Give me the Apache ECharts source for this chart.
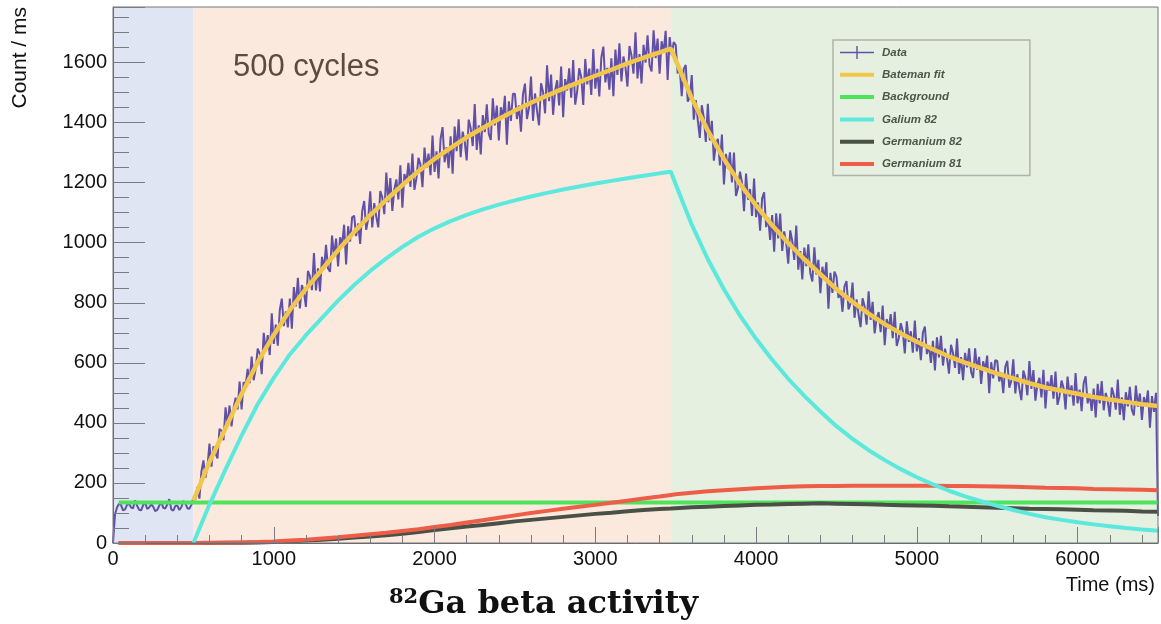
<!DOCTYPE html>
<html><head><meta charset="utf-8">
<script src="https://cdn.jsdelivr.net/npm/echarts@6/dist/echarts.min.js"></script>
<style>html,body{margin:0;padding:0;background:#fff}#c{width:1161px;height:624px}</style>
</head><body><div id="c"></div>
<script>
// ---- data ----
const BIN_MS = 12.5; // spacing of the measured points (ms)
const dataCounts = [
0,96,118,131,126,109,112,127,131,118,116,142,124,111,109,126,135,113,118,129,121,106,110,124,138,117,115,128,146,112,108,123,125,110,119,140,132,116,114,127,
150,144,186,148,238,275,217,254,331,254,322,299,282,380,374,342,452,391,458,388,450,484,445,538,445,536,524,580,532,621,542,580,
647,631,562,700,639,692,626,765,663,727,657,776,814,722,771,718,814,714,852,788,883,781,859,836,786,906,888,842,966,841,915,838,953,910,993,914,903,1024,954,1014,921,1018,992,1060,928,1055,1004,1085,
1090,1022,1064,996,1105,1139,1043,1080,1171,1051,1132,1087,1051,1172,1151,1095,1234,1135,1215,1106,1178,1211,1144,1258,1117,1229,1200,1266,1186,1297,1176,1215,1283,1260,1185,1317,1250,1297,1225,1357,
1236,1304,1214,1346,1385,1268,1318,1248,1354,1230,1387,1305,1411,1285,1370,1337,1274,1410,1381,1322,1462,1309,1391,1294,1425,1368,1461,1362,1342,1481,1391,1457,1341,1451,1415,1489,1326,1471,1406,1496,
1496,1412,1457,1370,1494,1530,1412,1449,1553,1406,1497,1439,1391,1531,1502,1431,1591,1471,1560,1426,1506,1541,1457,1587,1418,1545,1507,1581,1483,1608,1460,1505,1581,1552,1459,1612,1527,1580,1492,1645,
1513,1579,1487,1617,1653,1534,1582,1510,1614,1488,1643,1559,1664,1537,1620,1585,1520,1655,1624,1563,1701,1547,1628,1530,1659,1600,1691,1591,1570,1707,1615,1680,1563,1671,1634,1706,1542,1685,
1625,1668,
1658,1564,1583,1488,1579,1592,1470,1484,1558,1410,1475,1408,1349,1458,1416,1336,1463,1341,1406,1273,1329,1346,1257,1360,1194,1296,1248,1301,1201,1300,1156,1182,1237,1200,1105,1230,1143,1179,1089,1214,
1085,1134,1040,1147,1168,1052,1084,1009,1092,970,1098,1014,1097,973,1038,999,930,1041,1006,943,1057,910,972,878,984,922,995,898,871,985,894,943,832,920,878,935,780,900,833,904,
887,816,841,770,855,872,778,798,867,750,811,761,719,815,788,727,838,743,803,698,749,769,702,791,659,746,713,762,682,770,656,682,732,705,631,738,670,705,634,741,
638,682,609,700,721,629,659,600,673,575,685,618,690,591,647,617,564,660,633,583,681,563,619,542,633,585,648,570,550,648,577,620,530,605,574,624,499,602,548,609,
606,538,567,499,587,607,517,540,612,498,562,515,476,574,550,492,606,513,576,474,528,550,485,577,448,538,507,559,481,571,460,489,541,516,445,554,488,525,457,566,
465,511,439,532,555,465,497,440,514,418,530,465,539,442,500,472,421,518,493,444,544,427,485,409,502,455,520,443,425,524,454,498,410,486,457,508,384,489,437,500,
90];

const fitTimes = [500,600,700,800,900,1000,1100,1200,1300,1400,1500,1600,1700,1800,1900,2000,2100,2200,2300,2400,2500,2600,2700,2800,2900,3000,3100,3200,3300,3400,3470,
3500,3600,3700,3800,3900,4000,4100,4200,4300,4400,4500,4600,4700,4800,4900,5000,5100,5200,5300,5400,5500,5600,5700,5800,5900,6000,6100,6200,6300,6400,6500];
const batemanFit = [140,270,382,496,602,693,776,846,911,975,1036,1092,1143,1192,1238,1279,1316,1351,1382,1412,1440,1466,1490,1513,1535,1556,1576,1597,1616,1634,1646,
1608,1481,1373,1279,1196,1124,1058,999,945,895,845,803,764,729,698,670,645,621,601,582,564,548,532,518,507,497,486,478,470,462,456];
const galium82 = [0,128,245,358,462,550,628,692,750,807,859,906,948,986,1020,1048,1072,1093,1111,1127,1141,1154,1166,1177,1187,1197,1206,1215,1223,1231,1236,
1195,1060,945,845,757,680,610,547,490,438,389,347,309,276,246,219,195,174,155,139,124,110,97,86,77,69,62,56,50,45,41];
const germanium81 = [0,0.5,1,2,3,5,8,11,15,19,24,29,34,40,46,53,60,68,76,84,92,100,107,114,121,127,134,141,148,155,160,
162,167,172,176,179,182,185,187,189,190,190,191,191,191,191,191,191,190,190,189,188,187,186,184,183,182,180,179,178,177,176];
const germanium82 = [0,0,0.5,1,2,3,5,8,11,14,18,22,26,31,37,43,49,55,60,66,72,77,82,87,92,97,101,106,110,113,115,
116,119,121,123,125,127,128,130,131,132,131,130,129,127,126,125,124,122,121,119,117,116,114,113,112,111,109,108,107,105,104];
const curveStartTime = 35;           // Ge curves and background start (ms)
const backgroundLevel = 135;         // counts / ms
const phaseBounds = [0, 500, 3470, 6500];
const phaseColors = ['#dfe5f2', '#fbe9de', '#e5f0e0'];
const seriesNames = ['Data', 'Bateman fit', 'Background', 'Galium 82', 'Germanium 82', 'Germanium 81'];
const annotation = '500 cycles';

// ---- build ----
const pair = (vals) => fitTimes.map((t, i) => [t, vals[i]]);
const dataPts = dataCounts.map((v, i) => [i * BIN_MS, v]);
const ge81Pts = [[curveStartTime, 0]].concat(pair(germanium81));
const ge82Pts = [[curveStartTime, 0]].concat(pair(germanium82));
const bgPts = [[curveStartTime, backgroundLevel], [phaseBounds[3], backgroundLevel]];

const SANS = '"Liberation Sans", Arial, Helvetica, sans-serif';
const ICON_BAR = 'path://M0,0M0,4.5L34,4.5L34,8.5L0,8.5ZM34,13';
const ICON_DATA = 'path://M0,5.8L34,5.8L34,7.2L0,7.2ZM16.3,0L17.7,0L17.7,13L16.3,13Z';

const colors = {
  'Data': '#6050a6', 'Bateman fit': '#f2c64a', 'Background': '#4fe35c',
  'Galium 82': '#5de8dd', 'Germanium 82': '#4a5046', 'Germanium 81': '#ee5d48'
};
const tickColor = '#7b7b84';

const mkLine = (name, pts, width, extra) => Object.assign({
  name, type: 'line', data: pts, symbol: 'none', showSymbol: false,
  color: colors[name], itemStyle: { color: colors[name], borderWidth: 0 },
  lineStyle: { color: colors[name], width }, emphasis: { disabled: true },
  silent: true, animation: false
}, extra || {});

const markAreaData = phaseColors.map((c, i) => [
  { xAxis: phaseBounds[i], itemStyle: { color: c } },
  { xAxis: phaseBounds[i + 1] }
]);

const chart = echarts.init(document.getElementById('c'), null, { renderer: 'canvas' });
chart.setOption({
  animation: false,
  backgroundColor: '#ffffff',
  grid: { left: 113, right: 1, top: 7, bottom: 81, show: true, borderColor: '#777', borderWidth: 1, z: 10, backgroundColor: 'transparent' },
  title: {
    text: '{sup|82}{main|Ga beta activity}', left: 389, top: 587, padding: 0,
    textStyle: {
      rich: {
        sup: { fontSize: 21, fontWeight: 'bold', fontFamily: '"DejaVu Serif", serif', color: '#111', verticalAlign: 'top', lineHeight: 22 },
        main: { fontSize: 32, fontWeight: 'bold', fontFamily: '"DejaVu Serif", serif', color: '#111', lineHeight: 36 }
      }
    }
  },
  legend: {
    orient: 'vertical', left: 833, top: 40, itemWidth: 34, itemHeight: 13, itemGap: 9.3,
    padding: [6, 68, 5, 7], borderColor: '#aeb3ab', borderWidth: 1.5, backgroundColor: 'transparent',
    selectedMode: false,
    itemStyle: { borderWidth: 0 },
    textStyle: { fontSize: 11.5, fontStyle: 'italic', fontWeight: 'bold', color: '#4b5749', fontFamily: SANS, padding: [0, 0, 0, 3] },
    data: seriesNames.map(n => ({ name: n, icon: n === 'Data' ? ICON_DATA : ICON_BAR, itemStyle: { color: colors[n], borderWidth: 0 } }))
  },
  xAxis: {
    type: 'value', min: phaseBounds[0], max: phaseBounds[3], interval: 1000, z: 10,
    axisLine: { show: true, onZero: false, lineStyle: { color: '#6b6b73', width: 1 } },
    axisTick: { show: true, inside: true, length: 16, lineStyle: { color: tickColor } },
    minorTick: { show: true, splitNumber: 5, length: 8, lineStyle: { color: tickColor } },
    splitLine: { show: false }, minorSplitLine: { show: false },
    axisLabel: { margin: 6, fontSize: 20, color: '#111', fontFamily: SANS, formatter: v => (v % 1000 === 0 ? String(v) : '') },
    name: 'Time (ms)', nameLocation: 'end', nameGap: -3,
    nameTextStyle: { fontSize: 20, color: '#111', fontFamily: SANS, align: 'right', verticalAlign: 'top', padding: [32, 0, 0, 0] }
  },
  yAxis: {
    type: 'value', min: 0, max: 1785, interval: 200, z: 10,
    axisLine: { show: true, onZero: false, lineStyle: { color: '#6b6b73', width: 1 } },
    axisTick: { show: true, inside: true, length: 32, lineStyle: { color: tickColor } },
    minorTick: { show: true, splitNumber: 4, length: 16, lineStyle: { color: tickColor } },
    splitLine: { show: false }, minorSplitLine: { show: false },
    axisLabel: { margin: 6, fontSize: 20, color: '#111', fontFamily: SANS, formatter: v => (v % 200 === 0 ? String(v) : '') },
    name: 'Count / ms', nameLocation: 'end', nameRotate: 90, nameGap: 0,
    nameTextStyle: { fontSize: 21, color: '#111', fontFamily: SANS, align: 'right', verticalAlign: 'bottom', padding: [0, 0, 82, 0] }
  },
  graphic: [{
    type: 'text', left: 233, top: 52, z: 20, silent: true,
    style: { text: annotation, font: '31px ' + SANS, fill: '#5b4b41' }
  }],
  series: [
    mkLine('Data', dataPts, 2, {
      sampling: false,
      markArea: { silent: true, data: markAreaData, label: { show: false } }
    }),
    mkLine('Bateman fit', pair(batemanFit), 4.5),
    mkLine('Background', bgPts, 4),
    mkLine('Germanium 82', ge82Pts, 4),
    mkLine('Germanium 81', ge81Pts, 4),
    mkLine('Galium 82', pair(galium82), 4)
  ]
});
</script>
</body></html>
